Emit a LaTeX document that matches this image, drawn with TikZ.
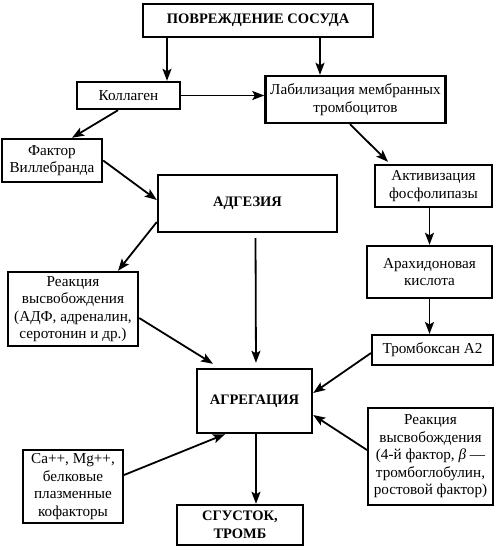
\documentclass[tikz,border=0pt]{standalone}
\usepackage{fontspec}
\setmainfont{Liberation Serif}
\usetikzlibrary{arrows.meta,calc}
\begin{document}
\begin{tikzpicture}[x=1pt,y=-1pt,
  box/.style={draw,line width=2.4pt,inner sep=0pt,align=center,
    font=\fontsize{15.2}{17.5}\selectfont},
  bbox/.style={box,font=\fontsize{14.5}{17.5}\selectfont\bfseries},
  arr/.style={line width=1.8pt,-{Stealth[length=12pt,width=9pt,inset=2.5pt]}}]
\useasboundingbox (0,0) rectangle (500,550);
\node[bbox,line width=2.8pt,minimum width=230pt,minimum height=33pt] (top) at (258,20.5) {ПОВРЕЖДЕНИЕ СОСУДА};
\node[box,minimum width=103pt,minimum height=27pt] (kol) at (128.5,95.5) {Коллаген};
\node[box,minimum width=180pt,minimum height=47pt] (lab) at (355.5,99.5) {Лабилизация мембранных\\тромбоцитов};
\node[box,minimum width=100pt,minimum height=43pt] (fak) at (52,160.5) {Фактор\\Виллебранда};
\node[bbox,minimum width=179pt,minimum height=57pt] (adg) at (247.5,203.5) {АДГЕЗИЯ};
\node[box,minimum width=117pt,minimum height=42pt] (akt) at (433.5,186) {Активизация\\фосфолипазы};
\node[box,minimum width=125pt,minimum height=52pt] (arah) at (429.5,272) {Арахидоновая\\кислота};
\node[box,minimum width=130pt,minimum height=74pt] (reak) at (73,309) {Реакция\\высвобождения\\(АДФ, адреналин,\\серотонин и др.)};
\node[box,line width=2pt,minimum width=121pt,minimum height=30pt] (trom) at (432.5,350) {Тромбоксан А2};
\node[bbox,minimum width=115pt,minimum height=64pt] (agr) at (254.5,401) {АГРЕГАЦИЯ};
\node[box,line width=2pt,minimum width=125pt,minimum height=97pt] (reakb) at (430.5,456.5) {Реакция\\высвобождения\\(4-й фактор, \textit{β} —\\тромбоглобулин,\\ростовой фактор)};
\node[box,line width=2pt,minimum width=100pt,minimum height=73pt] (ca) at (73,486.5) {Ca++, Mg++,\\белковые\\плазменные\\кофакторы};
\node[bbox,minimum width=126pt,minimum height=40pt] (sgu) at (240,525) {СГУСТОК,\\ТРОМБ};
\draw[arr] ([xshift=-91pt]top.south) -- ([xshift=38.5pt]kol.north);
\draw[arr] ([xshift=62pt]top.south) -- ([xshift=-35.5pt]lab.north);
\draw[arr] (kol.east) -- (kol.east -| lab.west);
\draw[arr] ([xshift=-10.5pt]kol.south) -- ([xshift=20pt]fak.north);
\draw[arr] ([xshift=-5.5pt]lab.south) -- ([xshift=-45.5pt,yshift=2pt]akt.north);
\draw[arr] (fak.east) -- ([yshift=3.5pt]adg.west);
\draw[arr] ([yshift=-18.5pt]adg.west) -- ([xshift=45pt]reak.north);
\draw[arr,shorten <=5pt,shorten >=5pt] ([xshift=8pt]adg.south) -- ([xshift=1.5pt]agr.north);
\draw[arr] ([yshift=-9pt]reak.east) -- ([xshift=-41.5pt,yshift=4pt]agr.north);
\draw[arr] (arah.north |- akt.south) -- (arah.north);
\draw[arr] (arah.south) -- (arah.south |- trom.north);
\draw[arr] ([yshift=-3pt]trom.west) -- ([yshift=8pt]agr.east);
\draw[arr] ([yshift=6.5pt]reakb.west) -- ([yshift=-14pt]agr.east);
\draw[arr] ([yshift=11.5pt]ca.east) -- ([xshift=-29.5pt]agr.south);
\draw[arr] ([xshift=1.5pt]agr.south) -- ([xshift=1.5pt]agr.south |- sgu.north);
\end{tikzpicture}
\end{document}
